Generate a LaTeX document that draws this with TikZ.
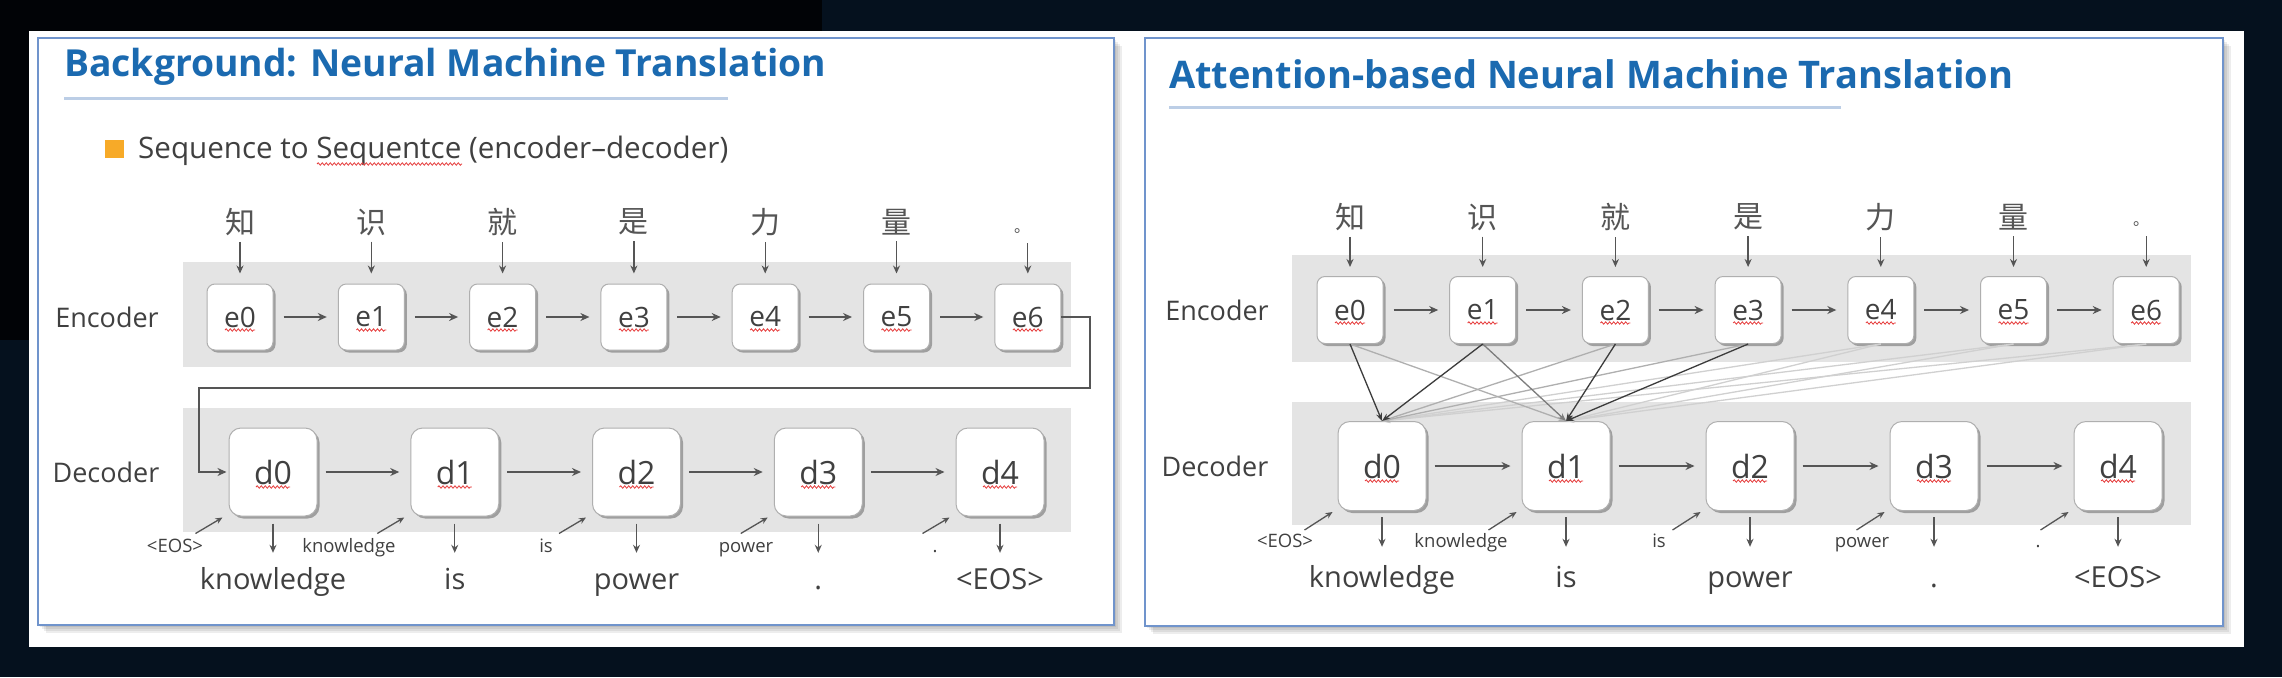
\documentclass[tikz,border=0pt]{standalone}
\usepackage{fontspec}
\setmainfont{Open Sans}
\newfontfamily\cjk{Noto Sans CJK SC}
\usetikzlibrary{arrows.meta,shadows,calc,decorations.pathmorphing}
\definecolor{bgnavy}{RGB}{5,17,30}
\definecolor{bgblack}{RGB}{1,3,6}
\definecolor{titleblue}{RGB}{27,106,176}
\definecolor{ulblue}{RGB}{188,206,230}
\definecolor{panelbd}{RGB}{112,148,204}
\definecolor{txt}{RGB}{64,64,64}
\definecolor{hang}{RGB}{85,85,85}
\definecolor{arrg}{RGB}{85,85,85}
\definecolor{bandg}{RGB}{228,228,228}
\definecolor{boxbd}{RGB}{175,175,175}
\definecolor{bulletor}{RGB}{247,170,40}
\definecolor{attdk}{RGB}{60,60,60}
\definecolor{attmd}{RGB}{125,125,125}
\definecolor{attlt}{RGB}{175,175,175}
\definecolor{attvl}{RGB}{208,208,208}
\definecolor{squigred}{RGB}{230,60,60}
\begin{document}
\begin{tikzpicture}[x=1pt,y=-1pt]
\tikzset{
  panelbox/.style={fill=white, draw=panelbd, line width=1.8pt},
  bandfill/.style={fill=bandg},
  ttl/.style={text=titleblue, inner sep=0pt, anchor=base west, font=\bfseries\fontsize{36}{40}\selectfont},
  ulline/.style={draw=ulblue, line width=3pt},
  ebox/.style={draw=boxbd, fill=white, rounded corners=8pt, minimum width=66pt, minimum height=66pt,
    inner sep=0pt, line width=1pt, text=txt, font=\fontsize{28}{30}\selectfont,
    drop shadow={shadow xshift=2.5pt, shadow yshift=-2.5pt, opacity=.3, fill=black}},
  dbox/.style={ebox, rounded corners=12pt, minimum width=88pt, minimum height=88pt, font=\fontsize{32}{34}\selectfont},
  hanzi/.style={text=hang, inner sep=0pt, font=\cjk\fontsize{30}{32}\selectfont},
  hdot/.style={text=hang, inner sep=0pt, font=\cjk\fontsize{16}{18}\selectfont},
  sidelbl/.style={text=txt, inner sep=0pt, font=\fontsize{27}{30}\selectfont},
  smlbl/.style={text=txt, inner sep=0pt, anchor=base, font=\fontsize{18.5}{21}\selectfont},
  outword/.style={text=txt, inner sep=0pt, anchor=base, text height=21pt, text depth=6pt, font=\fontsize{29}{32}\selectfont},
  harr/.style={draw=arrg, line width=2pt, -{Stealth[length=9pt,width=8pt]}, shorten <=10pt, shorten >=11pt},
  varr/.style={draw=arrg, line width=1.3pt, -{Stealth[length=8pt,width=7pt]}},
  conn/.style={draw=arrg, line width=2pt, -{Stealth[length=9pt,width=8pt]}, shorten >=2pt},
  sarr/.style={draw=arrg, line width=1.3pt, -{Stealth[length=7pt,width=6pt]}},
  att/.style={draw=#1, line width=1.3pt, -{Stealth[length=8pt,width=6pt]}},
  squig/.style={draw=squigred, line width=0.8pt, decorate, decoration={snake, amplitude=1.2pt, segment length=4pt}},
}
\useasboundingbox (0,0) rectangle (2282,677);
% background
\fill[bgnavy] (0,0) rectangle (2282,677);
\fill[bgblack] (0,0) rectangle (822,31);
\fill[bgblack] (0,0) rectangle (29,340);
\fill[white] (29,31) rectangle (2244,647);
% panel shadows
\foreach \k in {2,4,6,8} {
  \fill[black,opacity=0.07] (38+\k,38+\k) rectangle (1114+\k,625+\k);
  \fill[black,opacity=0.07] (1145+\k,38+\k) rectangle (2223+\k,626+\k);
}
\draw[panelbox] (38,38) rectangle (1114,625);
\draw[panelbox] (1145,38) rectangle (2223,626);

% ================= LEFT PANEL =================
\node[ttl] (LT) at (64,77) {\resizebox{762pt}{!}{Background: Neural Machine Translation}};
\draw[ulline] (64,98) -- (728,98);
\node[fill=bulletor, minimum width=19pt, minimum height=18pt, inner sep=0pt] (bul) at (114.5,149) {};
\node[text=txt, inner sep=0pt, anchor=base west, font=\fontsize{30}{34}\selectfont] (sub) at (138,158)
  {\resizebox{590pt}{!}{Sequence to Sequentce (encoder–decoder)}};
\draw[squig] (317,164) -- (462,164);

\fill[bandfill] (183,262) rectangle (1071,367);
\fill[bandfill] (183,408) rectangle (1071,532);
\node[sidelbl] (LEnc) at (107,317) {Encoder};
\node[sidelbl] (LDec) at (106,472) {Decoder};

\foreach \c [count=\n from 0] in {知,识,就,是,力,量} {
  \node[hanzi] (Lc\n) at ({240+131.3*\n},222) {\c};
}
\node[hdot] (Lc6) at (1022,231) {。};
\foreach \n in {0,...,6} {
  \node[ebox] (Le\n) at ({240+131.3*\n},317) {e\n};
  \draw[squig] ($(Le\n.center)+(-15,13)$) -- ++(30,0);
}
\foreach \n in {0,...,5} {
  \draw[varr, shorten <=6pt, shorten >=10pt] (Lc\n.south -| Le\n.north) -- (Le\n.north);
}
\draw[varr, shorten >=10pt] (Le6.north |- 0,243) -- (Le6.north);
\foreach \n [remember=\n as \p (initially 0)] in {1,...,6} {
  \draw[harr] (Le\p) -- (Le\n);
}
\foreach \n in {0,...,4} {
  \node[dbox] (Ld\n) at ({273+181.75*\n},472) {d\n};
  \draw[squig] ($(Ld\n.center)+(-17,15)$) -- ++(34,0);
}
\foreach \n [remember=\n as \p (initially 0)] in {1,...,4} {
  \draw[harr, shorten <=8pt] (Ld\p) -- (Ld\n);
}
\coordinate (Lk1) at (1090,388);
\coordinate (Lk2) at (199,472);
\draw[conn] (Le6.east) -| (Lk1) -| (Lk2) -- (Ld0.west);

\foreach \t/\x [count=\n from 0] in {<EOS>/175,knowledge/349,is/546,power/746,./935} {
  \node[smlbl] (Ls\n) at (\x,552) {\t};
  \draw[sarr] ($(Ld\n.south west)+(-33,17)$) -- ($(Ld\n.south west)+(-6,1)$);
}
\foreach \t [count=\n from 0] in {knowledge,is,power,.,<EOS>} {
  \node[outword] (Lw\n) at ({273+181.75*\n},589) {\t};
  \draw[varr, shorten <=7pt, shorten >=15pt] (Ld\n.south) -- (Lw\n.north);
}

% ================= RIGHT PANEL =================
\node[ttl] (RT) at (1169,88) {\resizebox{844pt}{!}{Attention-based Neural Machine Translation}};
\draw[ulline] (1169,107) -- (1841,107);

\fill[bandfill] (1292,255) rectangle (2191,362);
\fill[bandfill] (1292,402) rectangle (2191,525);
\node[sidelbl] (REnc) at (1217,310) {Encoder};
\node[sidelbl] (RDec) at (1215,466) {Decoder};

\foreach \c [count=\n from 0] in {知,识,就,是,力,量} {
  \node[hanzi] (Rc\n) at ({1350+132.7*\n},217) {\c};
}
\node[hdot] (Rc6) at (2141,224) {。};
\foreach \n in {0,...,6} {
  \node[ebox, minimum height=67pt] (Re\n) at ({1350+132.7*\n},310) {e\n};
  \draw[squig] ($(Re\n.center)+(-15,13)$) -- ++(30,0);
}
\foreach \n in {0,...,5} {
  \draw[varr, shorten <=6pt, shorten >=9pt] (Rc\n.south -| Re\n.north) -- (Re\n.north);
}
\draw[varr, shorten >=9pt] (Re6.north |- 0,236) -- (Re6.north);
\foreach \n [remember=\n as \p (initially 0)] in {1,...,6} {
  \draw[harr] (Re\p) -- (Re\n);
}
\foreach \n in {0,...,4} {
  \node[dbox, minimum height=89pt] (Rd\n) at ({1382+184*\n},466) {d\n};
  \draw[squig] ($(Rd\n.center)+(-17,15)$) -- ++(34,0);
}
\foreach \n [remember=\n as \p (initially 0)] in {1,...,4} {
  \draw[harr, shorten <=8pt] (Rd\p) -- (Rd\n);
}
% attention lines
\foreach \e in {4,5,6} {
  \draw[att=attvl] (Re\e.south) -- (Rd0.north);
  \draw[att=attvl] (Re\e.south) -- (Rd1.north);
}
\draw[att=attlt] (Re0.south) -- (Rd1.north);
\draw[att=attlt] (Re2.south) -- (Rd0.north);
\draw[att=attlt] (Re3.south) -- (Rd0.north);
\draw[att=attmd] (Re1.south) -- (Rd1.north);
\draw[att=attdk] (Re0.south) -- (Rd0.north);
\draw[att=attdk] (Re1.south) -- (Rd0.north);
\draw[att=attdk] (Re2.south) -- (Rd1.north);
\draw[att=attdk] (Re3.south) -- (Rd1.north);

\foreach \t/\x [count=\n from 0] in {<EOS>/1285,knowledge/1461,is/1659,power/1862,./2038} {
  \node[smlbl] (Rs\n) at (\x,547) {\t};
  \draw[sarr] ($(Rd\n.south west)+(-33,19)$) -- ($(Rd\n.south west)+(-5,1)$);
}
\foreach \t [count=\n from 0] in {knowledge,is,power,.,<EOS>} {
  \node[outword] (Rw\n) at ({1382+184*\n},587) {\t};
  \draw[varr, shorten <=6pt, shorten >=19pt] (Rd\n.south) -- (Rw\n.north);
}
\end{tikzpicture}
\end{document}
